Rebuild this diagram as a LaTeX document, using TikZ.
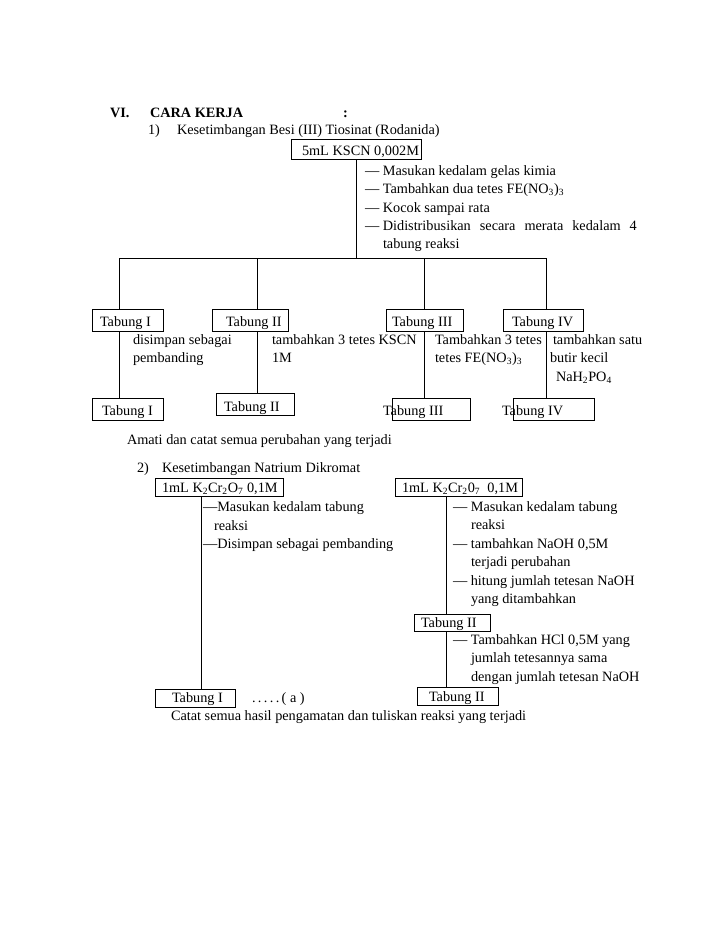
\documentclass[tikz,border=0pt]{standalone}
\usepackage{fontspec}
\setmainfont{Liberation Serif}
\newcommand{\sbs}[1]{\textsubscript{#1}}
\begin{document}
\begin{tikzpicture}[x=0.8407pt,y=-0.8407pt,
  txt/.style={anchor=base west,inner sep=0pt,outer sep=0pt,font=\fontsize{12}{14}\selectfont},
  boxst/.style={draw,line width=0.8pt,inner sep=0pt,outer sep=0pt},
  ln/.style={line width=0.8pt}]
\newcommand{\mybox}[5]{\node[boxst,minimum width={(#4-#2)*0.8407pt},minimum height={(#5-#3)*0.8407pt}] (#1) at ({(#2+#4)/2},{(#3+#5)/2}) {};}
\useasboundingbox (0,0) rectangle (728,943);
% header
\node[txt,font=\fontsize{12}{14}\selectfont\bfseries] (vi) at (110,117) {VI.};
\node[txt,font=\fontsize{12}{14}\selectfont\bfseries] (ck) at (150,117) {CARA KERJA};
\node[txt,font=\fontsize{12}{14}\selectfont\bfseries] (colon) at (343,117) {:};
\node[txt] (n1) at (148,134) {1)};
\node[txt] (s1) at (177,134) {Kesetimbangan Besi (III) Tiosinat (Rodanida)};
% KSCN box
\mybox{kscn}{291}{139}{421}{159}
\node[txt] (kscnt) at (302,155) {5mL KSCN 0,002M};
\node[txt] (b1) at (365,175) {— Masukan kedalam gelas kimia};
\node[txt] (b2) at (365,193) {— Tambahkan dua tetes FE(NO\sbs{3})\sbs{3}};
\node[txt] (b3) at (365,212) {— Kocok sampai rata};
\node[txt] (b4) at (365,230) {— \makebox[213.5pt][s]{Didistribusikan secara merata kedalam 4}};
\node[txt] (b5) at (383,248) {tabung reaksi};
% tree
\coordinate (j0) at (356,258);
\coordinate (h1) at (119,258);
\coordinate (h2) at (257,258);
\coordinate (h3) at (424,258);
\coordinate (h4) at (546,258);
\draw[ln] (kscn.south -| j0) -- (j0);
\draw[ln] (h1) -- (h4);
% top tabung boxes
\mybox{t1}{92}{309}{163}{331}
\mybox{t2}{212}{309}{288}{331}
\mybox{t3}{386}{309}{463}{331}
\mybox{t4}{503}{309}{583}{331}
\node[txt] (t1t) at (100,326) {Tabung I};
\node[txt] (t2t) at (226,326) {Tabung II};
\node[txt] (t3t) at (392,326) {Tabung III};
\node[txt] (t4t) at (512,326) {Tabung IV};
% bottom tabung boxes
\mybox{u1}{92}{398}{163}{420}
\mybox{u2}{216}{393}{294}{415}
\mybox{u3}{392}{398}{470}{420}
\mybox{u4}{513}{398}{594}{420}
\node[txt] (u1t) at (102,415) {Tabung I};
\node[txt] (u2t) at (224,411) {Tabung II};
\node[txt] (u3t) at (383,415) {Tabung III};
\node[txt] (u4t) at (502,415) {Tabung IV};
% vertical connectors
\draw[ln] (h1) -- (t1.north -| h1);
\draw[ln] (h2) -- (t2.north -| h2);
\draw[ln] (h3) -- (t3.north -| h3);
\draw[ln] (h4) -- (t4.north -| h4);
\draw[ln] (t1.south -| h1) -- (u1.north -| h1);
\draw[ln] (t2.south -| h2) -- (u2.north -| h2);
\draw[ln] (t3.south -| h3) -- (u3.north -| h3);
\draw[ln] (t4.south -| h4) -- (u4.north -| h4);
% labels between
\node[txt] (l1a) at (133,344) {disimpan sebagai};
\node[txt] (l1b) at (133,362) {pembanding};
\node[txt] (l2a) at (272,344) {tambahkan 3 tetes KSCN};
\node[txt] (l2b) at (272,362) {1M};
\node[txt] (l3a) at (435,344) {Tambahkan 3 tetes};
\node[txt] (l3b) at (435,362) {tetes FE(NO\sbs{3})\sbs{3}};
\node[txt] (l4a) at (553,344) {tambahkan satu};
\node[txt] (l4b) at (550,362) {butir kecil};
\node[txt] (l4c) at (556,381) {NaH\sbs{2}PO\sbs{4}};
\node[txt] (amati) at (127,444) {Amati dan catat semua perubahan yang terjadi};
% section 2
\node[txt] (n2) at (137,472) {2)};
\node[txt] (s2) at (162,472) {Kesetimbangan Natrium Dikromat};
\mybox{ka}{155}{478}{283}{496}
\node[txt] (kat) at (162,492) {1mL K\sbs{2}Cr\sbs{2}O\sbs{7} 0,1M};
\mybox{kb}{395}{478}{522}{496}
\node[txt] (kbt) at (402,492) {1mL K\sbs{2}Cr\sbs{2}0\sbs{7}\ \ 0,1M};
% left branch
\coordinate (va) at (201,0);
\mybox{ta}{155}{689}{235}{707}
\node[txt] (tat) at (172,702) {Tabung I};
\draw[ln] (ka.south -| va) -- (ta.north -| va);
\node[txt] (la1) at (203,511) {—Masukan kedalam tabung};
\node[txt] (la2) at (214,530) {reaksi};
\node[txt] (la3) at (203,548) {—Disimpan sebagai pembanding};
\node[txt] (dots) at (252,702) {.\,.\,.\,.\,.\,( a )};
\node[txt] (catat) at (171,720) {Catat semua hasil pengamatan dan tuliskan reaksi yang terjadi};
% right branch
\coordinate (vb) at (446,0);
\mybox{tb}{414}{614}{490}{631}
\node[txt] (tbt) at (421,627) {Tabung II};
\mybox{tc}{417}{687}{498}{705}
\node[txt] (tct) at (429,701) {Tabung II};
\draw[ln] (kb.south -| vb) -- (tb.north -| vb);
\draw[ln] (tb.south -| vb) -- (tc.north -| vb);
\node[txt] (lb1) at (453,511) {— Masukan kedalam tabung};
\node[txt] (lb2) at (471,529) {reaksi};
\node[txt] (lb3) at (453,548) {— tambahkan NaOH 0,5M};
\node[txt] (lb4) at (471,566) {terjadi perubahan};
\node[txt] (lb5) at (453,585) {— hitung jumlah tetesan NaOH};
\node[txt] (lb6) at (471,603) {yang ditambahkan};
\node[txt] (lb7) at (453,644) {— Tambahkan HCl 0,5M yang};
\node[txt] (lb8) at (471,662) {jumlah tetesannya sama};
\node[txt] (lb9) at (471,681) {dengan jumlah tetesan NaOH};
\end{tikzpicture}
\end{document}
